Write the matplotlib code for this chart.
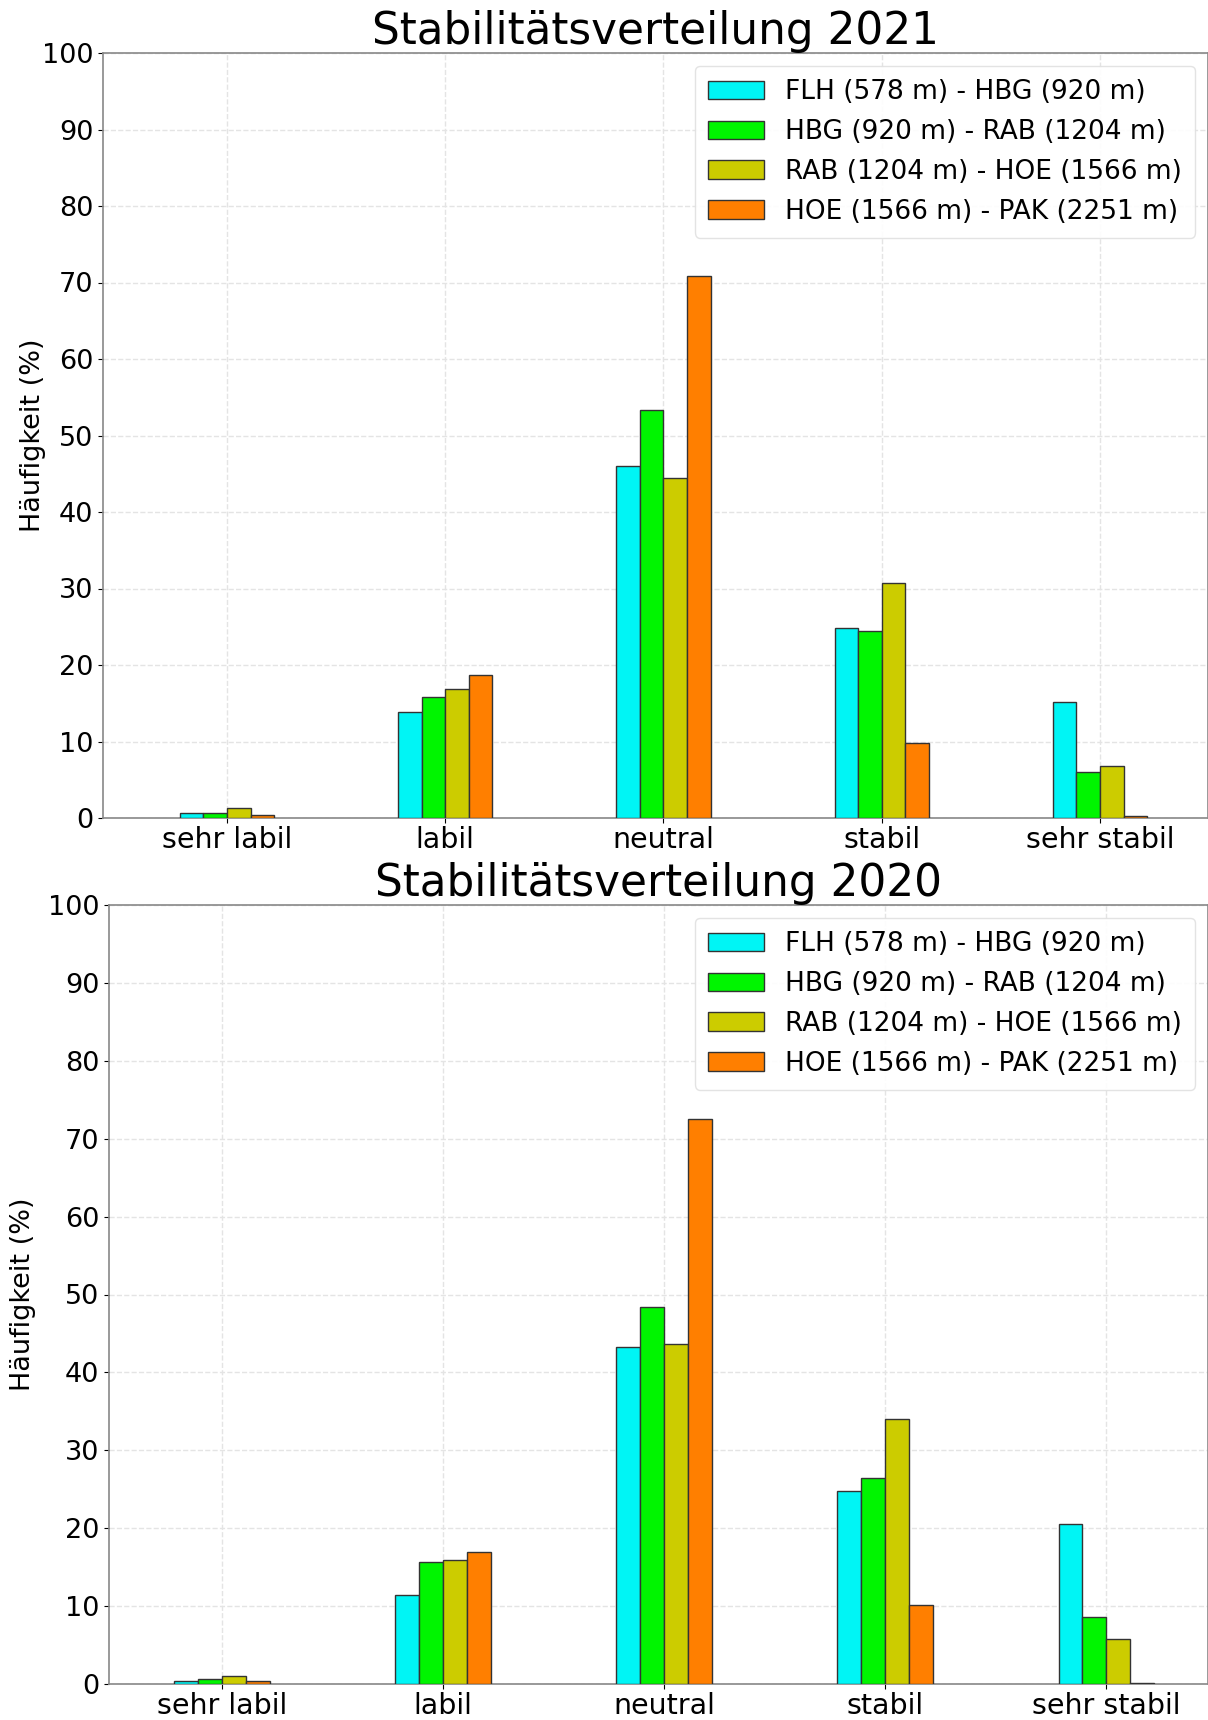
import numpy as np
import matplotlib
matplotlib.use("Agg")
import matplotlib.pyplot as plt

# Stability classes and layer labels
categories = ["sehr labil", "labil", "neutral", "stabil", "sehr stabil"]
layers = [
    "FLH (578 m) - HBG (920 m)",
    "HBG (920 m) - RAB (1204 m)",
    "RAB (1204 m) - HOE (1566 m)",
    "HOE (1566 m) - PAK (2251 m)",
]

# Frequencies (%) per layer, 2021
flh_hbg_2021 = [0.6, 13.9, 46.0, 24.8, 15.1]
hbg_rab_2021 = [0.6, 15.8, 53.3, 24.4, 6.0]
rab_hoe_2021 = [1.3, 16.9, 44.4, 30.7, 6.8]
hoe_pak_2021 = [0.4, 18.7, 70.9, 9.8, 0.2]

# Frequencies (%) per layer, 2020
flh_hbg_2020 = [0.4, 11.4, 43.2, 24.8, 20.5]
hbg_rab_2020 = [0.7, 15.7, 48.4, 26.4, 8.6]
rab_hoe_2020 = [1.0, 15.9, 43.6, 34.0, 5.8]
hoe_pak_2020 = [0.4, 17.0, 72.5, 10.2, 0.1]

colors = ["#00f5f5", "#00f500", "#cccc00", "#ff7f00"]

fig = plt.figure(figsize=(12.08, 17.20), dpi=100)


def draw(ax, series, title, xlim):
    x = np.arange(len(categories))
    w = 0.108
    for i, (vals, col, lab) in enumerate(zip(series, colors, layers)):
        ax.bar(x + (i - 1.5) * w, vals, width=w, color=col,
               edgecolor="#333333", linewidth=1.0, label=lab, zorder=3)
    ax.set_xticks(x)
    ax.set_xticklabels(categories, fontsize=20.5)
    ax.set_ylim(0, 100)
    ax.set_yticks(np.arange(0, 101, 10))
    ax.tick_params(axis="y", labelsize=19.5)
    ax.tick_params(axis="x", pad=2)
    ax.set_xlim(*xlim)
    ax.set_ylabel("Häufigkeit (%)", fontsize=19.5)
    ax.set_title(title, fontsize=31.5, pad=3)
    ax.grid(True, color="#e4e4e4", linestyle="--", linewidth=1.0, zorder=0)
    for s in ax.spines.values():
        s.set_color("#888888")
        s.set_linewidth(1.2)
    ax.legend(loc="upper right", fontsize=19, frameon=True,
              framealpha=0.9, edgecolor="#e0e0e0", borderpad=0.5,
              labelspacing=0.52, handlelength=2.1)


ax1 = fig.add_axes([103 / 1208, 1 - 818 / 1720, 1105 / 1208, 765 / 1720])
draw(ax1, [flh_hbg_2021, hbg_rab_2021, rab_hoe_2021, hoe_pak_2021],
     "Stabilitätsverteilung 2021", (-0.568, 4.495))
ax1.yaxis.set_label_coords(-0.052, 0.5)

ax2 = fig.add_axes([109 / 1208, 1 - 1684 / 1720, 1099 / 1208, 779 / 1720])
draw(ax2, [flh_hbg_2020, hbg_rab_2020, rab_hoe_2020, hoe_pak_2020],
     "Stabilitätsverteilung 2020", (-0.51, 4.46))
ax2.yaxis.set_label_coords(-0.066, 0.5)

fig.savefig("out.png", dpi=100)
